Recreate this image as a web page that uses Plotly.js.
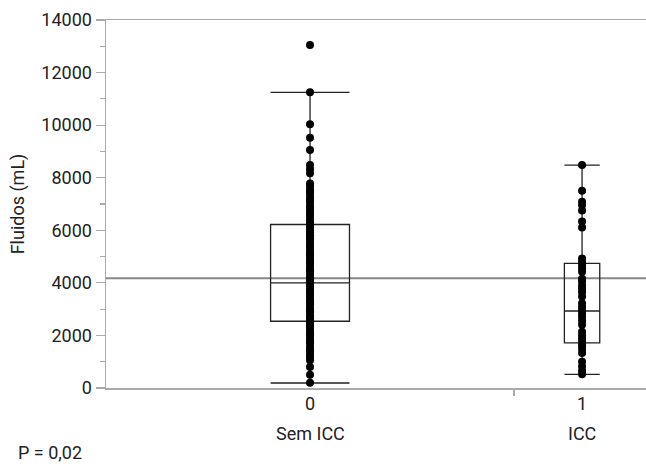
<!DOCTYPE html>
<html>
<head>
<meta charset="utf-8">
<script src="https://cdn.plot.ly/plotly-3.0.1.min.js"></script>
<style>html,body{margin:0;padding:0;background:#fff}#chart{width:646px;height:467px}</style>
</head>
<body>
<div id="chart"></div>
<script>
// Categories
const categories = ["0", "1"];
const groupNames = ["Sem ICC", "ICC"];
const categoryPos = [0, 1];

// Individual observations (mL)
const semICC = [13050, 11250, 10030, 9520, 9050, 8480, 8320, 8170, 7780, 7690, 7560, 7470, 7390, 7260,
  7150, 7080, 6940, 6850, 6730, 6620, 6540, 6410, 6300, 6230, 6120, 6010, 5930, 5810, 5700, 5640,
  5520, 5410, 5330, 5200, 5110, 5030, 4920, 4800, 4730, 4610, 4500, 4430, 4310, 4200, 4120, 4010,
  3960, 3870, 3750, 3660, 3580, 3470, 3350, 3260, 3180, 3050, 2960, 2880, 2760, 2650, 2570, 2490,
  2380, 2290, 2170, 2080, 1990, 1870, 1780, 1690, 1560, 1470, 1380, 1260, 1170, 1060, 800, 500, 200];
const comICC = [8480, 7500, 7090, 6960, 6750, 6330, 6110, 4930, 4800, 4680, 4550, 4420, 4160, 4050,
  3900, 3780, 3650, 3480, 3220, 3080, 2950, 2820, 2700, 2560, 2410, 2140, 2010, 1880, 1750, 1620,
  1480, 1330, 1000, 820, 650, 520];

// Box statistics
const q1 = [2540, 1720];
const median = [4000, 2930];
const q3 = [6220, 4740];
const lowerFence = [190, 520];
const upperFence = [11250, 8480];

// Reference line value
const refLine = 4180;
const pValueText = "P = 0,02";

const yTicks = [0, 2000, 4000, 6000, 8000, 10000, 12000, 14000];
const yTickText = ["0", "2000", "4000", "6000", "8000", "10000", "12000", "14000"];

const FONT = 'Roboto, "Noto Sans", sans-serif';
const FS = 18;
const boxWidths = [0.29, 0.13];
const series = [semICC, comICC];

const traces = [];
for (let i = 0; i < 2; i++) {
  traces.push({
    type: 'box',
    x: [categoryPos[i]],
    q1: [q1[i]], median: [median[i]], q3: [q3[i]],
    lowerfence: [lowerFence[i]], upperfence: [upperFence[i]],
    boxpoints: false,
    width: boxWidths[i],
    whiskerwidth: 1,
    fillcolor: 'rgba(0,0,0,0)',
    line: {color: '#222', width: 1.3},
    hoverinfo: 'skip',
    showlegend: false
  });
}
for (let i = 0; i < 2; i++) {
  traces.push({
    type: 'scatter',
    mode: 'markers',
    x: series[i].map(() => categoryPos[i]),
    y: series[i],
    marker: {color: '#000', size: 8},
    hoverinfo: 'skip',
    showlegend: false,
    cliponaxis: false
  });
}

const txtFont = {family: FONT, size: FS, color: '#222'};
const annotations = [];
for (let i = 0; i < 2; i++) {
  annotations.push({x: categoryPos[i], xref: 'x', y: -0.041, yref: 'paper', text: categories[i],
    showarrow: false, font: txtFont, xanchor: 'center', yanchor: 'middle'});
  annotations.push({x: categoryPos[i], xref: 'x', y: -0.123, yref: 'paper', text: groupNames[i],
    showarrow: false, font: txtFont, xanchor: 'center', yanchor: 'middle'});
}
annotations.push({x: 0, xref: 'paper', xshift: -90, y: -0.175, yref: 'paper', text: pValueText,
  showarrow: false, font: txtFont, xanchor: 'left', yanchor: 'middle'});

const layout = {
  width: 646, height: 467,
  margin: {l: 106, r: 0, t: 20, b: 79},
  paper_bgcolor: '#fff', plot_bgcolor: '#fff',
  font: txtFont,
  xaxis: {
    range: [-0.75, 1.235],
    tickvals: [0.75], ticktext: [''],
    ticks: 'outside', ticklen: 6, tickcolor: '#aaa', tickwidth: 1.5,
    showline: true, linecolor: '#aaa', linewidth: 1.5, mirror: true,
    showgrid: false, zeroline: false, fixedrange: true
  },
  yaxis: {
    range: [0, 14000],
    tickvals: yTicks, ticktext: yTickText,
    ticks: 'outside', ticklen: 9, tickcolor: '#aaa', tickwidth: 1.2,
    minor: {dtick: 1000, ticks: 'outside', ticklen: 5, tickcolor: '#aaa', tickwidth: 1.2},
    showline: true, linecolor: '#aaa', linewidth: 1.5,
    showgrid: false, zeroline: false,
    tickfont: txtFont,
    title: {text: 'Fluidos (mL)', font: txtFont, standoff: 12},
    fixedrange: true
  },
  shapes: [{type: 'line', xref: 'paper', x0: 0, x1: 1, yref: 'y', y0: refLine, y1: refLine,
    line: {color: '#888', width: 2}, layer: 'below'}],
  annotations: annotations,
  showlegend: false
};

Plotly.newPlot('chart', traces, layout, {displayModeBar: false, staticPlot: true});
</script>
</body>
</html>
